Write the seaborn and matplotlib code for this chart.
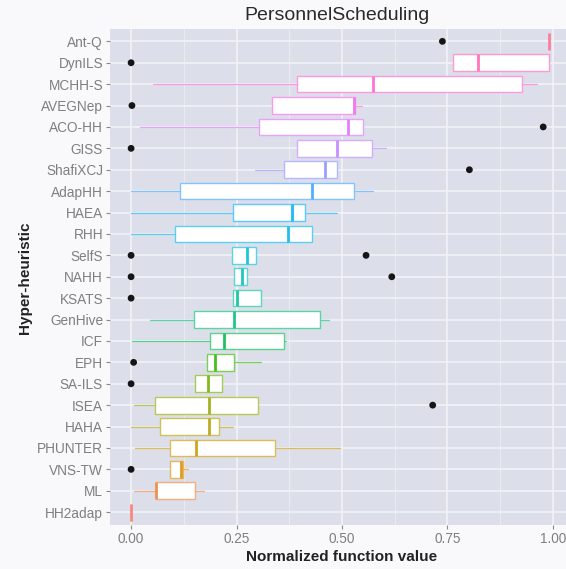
import math
import numpy as np
import pandas as pd
import matplotlib
matplotlib.use("Agg")
import matplotlib.pyplot as plt
import seaborn as sns

# Hyper-heuristics, listed top to bottom
methods = ["Ant-Q", "DynILS", "MCHH-S", "AVEGNep", "ACO-HH", "GISS", "ShafiXCJ",
           "AdapHH", "HAEA", "RHH", "SelfS", "NAHH", "KSATS", "GenHive", "ICF",
           "EPH", "SA-ILS", "ISEA", "HAHA", "PHUNTER", "VNS-TW", "ML", "HH2adap"]

# Box summaries of the normalized function value
whisker_low = [0.990, 0.763, 0.051, 0.333, 0.021, 0.393, 0.293, 0.000, 0.000, 0.000,
               0.239, 0.244, 0.241, 0.045, 0.003, 0.179, 0.151, 0.006, 0.000, 0.009,
               0.092, 0.006, 0.000]
q1 = [0.990, 0.763, 0.393, 0.333, 0.303, 0.393, 0.363, 0.117, 0.241, 0.105,
      0.239, 0.244, 0.241, 0.150, 0.187, 0.179, 0.151, 0.057, 0.069, 0.092,
      0.092, 0.060, 0.000]
median = [0.990, 0.822, 0.573, 0.528, 0.515, 0.489, 0.459, 0.428, 0.382, 0.373,
          0.275, 0.262, 0.252, 0.244, 0.221, 0.198, 0.183, 0.184, 0.184, 0.155,
          0.118, 0.060, 0.000]
q3 = [0.990, 0.990, 0.927, 0.530, 0.550, 0.571, 0.487, 0.529, 0.413, 0.430,
      0.297, 0.275, 0.308, 0.449, 0.362, 0.244, 0.216, 0.300, 0.208, 0.340,
      0.122, 0.152, 0.000]
whisker_high = [0.990, 0.990, 0.962, 0.547, 0.550, 0.604, 0.487, 0.573, 0.489, 0.430,
                0.297, 0.275, 0.308, 0.470, 0.368, 0.308, 0.216, 0.300, 0.242, 0.496,
                0.134, 0.174, 0.000]
outliers = {
    "Ant-Q": [0.738],
    "DynILS": [0.0],
    "AVEGNep": [0.002],
    "ACO-HH": [0.977],
    "GISS": [0.0],
    "ShafiXCJ": [0.802],
    "SelfS": [0.0, 0.557],
    "NAHH": [0.0, 0.618],
    "KSATS": [0.0],
    "EPH": [0.006],
    "SA-ILS": [0.0],
    "ISEA": [0.715],
    "VNS-TW": [0.0],
}

x_ticks = [0.0, 0.25, 0.5, 0.75, 1.0]
x_tick_labels = ["0.00", "0.25", "0.50", "0.75", "1.00"]


def hcl_to_rgb(h, c=100.0, l=65.0):
    """Polar CIE-Luv colour to clipped sRGB components in [0, 1]."""
    hr = math.radians(h)
    u, v = c * math.cos(hr), c * math.sin(hr)
    xn, yn, zn = 0.95047, 1.0, 1.08883
    un = 4 * xn / (xn + 15 * yn + 3 * zn)
    vn = 9 * yn / (xn + 15 * yn + 3 * zn)
    y = ((l + 16) / 116) ** 3 if l > 8 else l / 903.3
    up = u / (13 * l) + un
    vp = v / (13 * l) + vn
    x = 9 * y * up / (4 * vp)
    z = -x / 3 - 5 * y + 3 * y / vp
    r = 3.240479 * x - 1.537150 * y - 0.498535 * z
    g = -0.969256 * x + 1.875992 * y + 0.041556 * z
    b = 0.055648 * x - 0.204043 * y + 1.057311 * z

    def gam(t):
        t = 12.92 * t if t <= 0.0031308 else 1.055 * t ** (1 / 2.4) - 0.055
        return min(max(t, 0.0), 1.0)

    return np.array([gam(r), gam(g), gam(b)])


def soften(rgb, amount):
    return tuple(rgb + (1.0 - rgb) * amount)


# Discrete hue scale: first level (bottom row) starts at hue 15
n = len(methods)
hues = np.linspace(15, 375, n + 1)[:n]
base_bottom_up = [hcl_to_rgb(h) for h in hues]
base = base_bottom_up[::-1]
edge_colors = [soften(c, 0.35) for c in base]
median_colors = [soften(c, 0.12) for c in base]

sns.set_theme(style="darkgrid")
plt.rcParams["font.family"] = ["Liberation Sans", "DejaVu Sans"]

W, H = 566, 569
fig = plt.figure(figsize=(W / 100, H / 100), dpi=100, facecolor="#F9F9FB")
ax = fig.add_axes([110 / W, (H - 525) / H, 464 / W, 496.5 / H])
ax.set_facecolor("#DCDFEA")

positions = list(range(n))
stats = []
for i in range(n):
    stats.append(dict(med=median[i], q1=q1[i], q3=q3[i],
                      whislo=whisker_low[i], whishi=whisker_high[i], fliers=[]))

art = ax.bxp(stats, positions=positions, widths=0.78, orientation="horizontal",
             patch_artist=True, showcaps=False, showfliers=False, zorder=3)
for i in range(n):
    box = art["boxes"][i]
    box.set_facecolor("white")
    box.set_edgecolor(edge_colors[i])
    box.set_linewidth(1.0)
    med = art["medians"][i]
    med.set_color(median_colors[i])
    med.set_linewidth(2.0)
    med.set_solid_capstyle("butt")
    for w in art["whiskers"][2 * i:2 * i + 2]:
        w.set_color(edge_colors[i])
        w.set_linewidth(0.9)

out_rows = [(name, val, methods.index(name)) for name, vals in outliers.items() for val in vals]
out_df = pd.DataFrame(out_rows, columns=["method", "value", "row"])
sns.scatterplot(data=out_df, x="value", y="row", color="#151515", s=24,
                edgecolor="none", ax=ax, zorder=4, legend=False)

ax.set_xlim(-0.05, 1.05)
ax.set_ylim(n - 1 + 0.6, -0.6)
ax.set_xticks(x_ticks)
ax.set_xticklabels(x_tick_labels)
ax.set_xticks([0.125, 0.375, 0.625, 0.875], minor=True)
ax.set_yticks(positions)
ax.set_yticklabels(methods)
ax.set_xlabel("")
ax.set_ylabel("")

ax.grid(which="major", color="#F3F4F9", linewidth=1.1, zorder=0)
ax.grid(which="minor", axis="x", color="#ECEEF5", linewidth=0.6, zorder=0)
ax.set_axisbelow(True)
for s in ax.spines.values():
    s.set_visible(False)

ax.tick_params(axis="both", which="major", length=3, width=0.8, color="#8A8A8A",
               labelcolor="#7F7F7F", labelsize=9.8, pad=2, bottom=True, left=True)
ax.tick_params(axis="x", which="minor", length=0)

fig.text(337 / W, 1 - 16 / H, "PersonnelScheduling", fontsize=14, color="#2A2A2A",
         ha="center", va="center")
fig.text(342 / W, 1 - 557 / H, "Normalized function value", fontsize=11,
         color="#222222", fontweight="bold", ha="center", va="center")
fig.text(25 / W, 1 - 278 / H, "Hyper-heuristic", fontsize=11, color="#222222",
         fontweight="bold", rotation=90, ha="center", va="center")

fig.savefig("out.png", dpi=100, facecolor=fig.get_facecolor())
